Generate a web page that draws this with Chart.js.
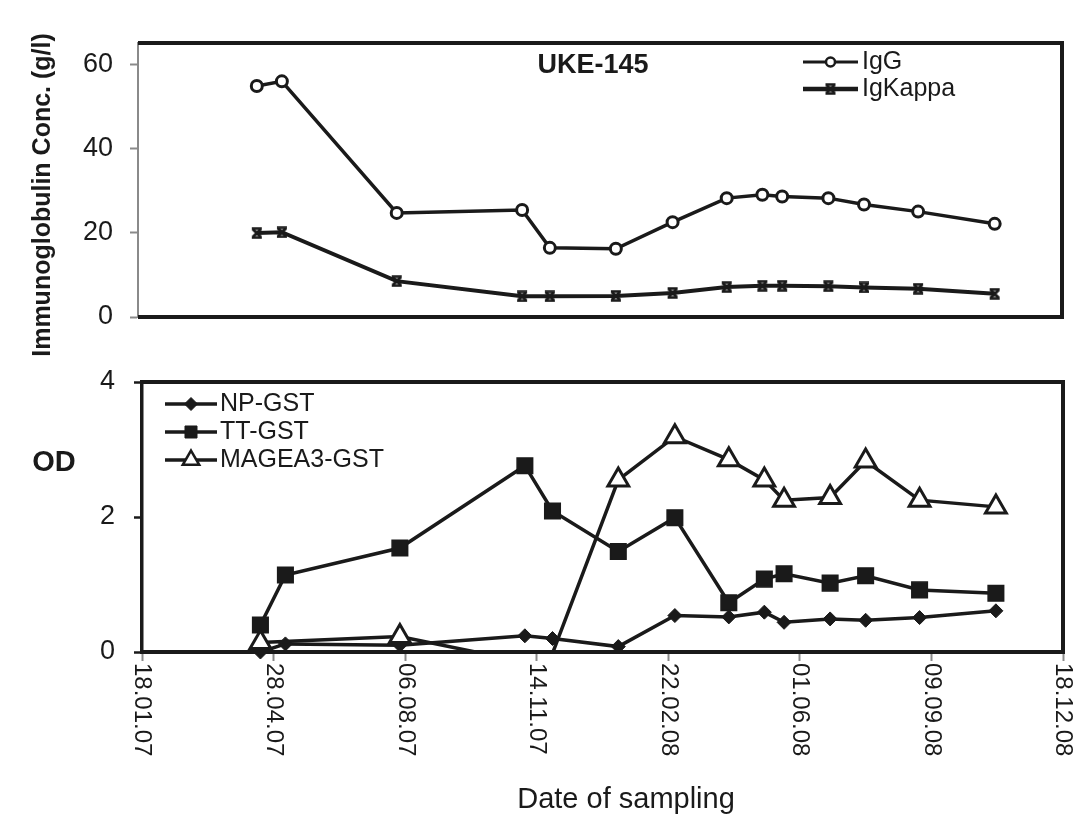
<!DOCTYPE html>
<html>
<head>
<meta charset="utf-8">
<title>UKE-145</title>
<script src="https://cdn.jsdelivr.net/npm/chart.js@4.4.1/dist/chart.umd.min.js"></script>
<style>
  html, body { margin: 0; padding: 0; background: #fff; }
  #wrap { position: relative; width: 1078px; height: 821px; }
  #wrap canvas { position: absolute; left: 0; top: 0; }
</style>
</head>
<body>
<div id="wrap">
  <canvas id="igChart" width="1078" height="821"></canvas>
  <canvas id="odChart" width="1078" height="821"></canvas>
</div>
<script>
// Sampling dates (shared by both panels)
const sampleDates = [
  '2007-04-18', '2007-05-07', '2007-08-02', '2007-11-05', '2007-11-26',
  '2008-01-15', '2008-02-27', '2008-04-08', '2008-05-05', '2008-05-20',
  '2008-06-24', '2008-07-21', '2008-08-31', '2008-10-28'
];

// Immunoglobulin concentrations (g/l)
const igG     = [54.8, 55.9, 24.7, 25.4, 16.4, 16.2, 22.5, 28.2, 29.0, 28.6, 28.2, 26.7, 25.0, 22.1];
const igKappa = [19.9, 20.1, 8.5, 4.9, 4.9, 5.0, 5.7, 7.1, 7.4, 7.4, 7.3, 7.0, 6.7, 5.5];

// Antibody responses (OD)
const npGst    = [0.0, 0.12, 0.10, 0.24, 0.20, 0.08, 0.54, 0.52, 0.59, 0.44, 0.49, 0.47, 0.51, 0.61];
const ttGst    = [0.40, 1.14, 1.54, 2.76, 2.09, 1.49, 1.99, 0.73, 1.08, 1.16, 1.02, 1.13, 0.92, 0.87];
const mageaGst = [0.14, null, 0.23, -0.15, -0.02, 2.55, 3.19, 2.85, 2.55, 2.25, 2.29, 2.83, 2.25, 2.15];

// Axis ticks
const tickDates  = ['2007-01-18', '2007-04-28', '2007-08-06', '2007-11-14', '2008-02-22', '2008-06-01', '2008-09-09', '2008-12-18'];
const tickLabels = ['18.01.07', '28.04.07', '06.08.07', '14.11.07', '22.02.08', '01.06.08', '09.09.08', '18.12.08'];
const igTicks = [0, 20, 40, 60];
const odTicks = [0, 2, 4];

const ink = '#1a1a1a';
const family = '"Liberation Sans", Arial, sans-serif';
const origin = Date.UTC(2007, 0, 18);

function dayOf(s) {
  return (Date.parse(s + 'T00:00:00Z') - origin) / 86400000;
}

function points(values) {
  return sampleDates.map((d, i) => ({ x: dayOf(d), y: values[i] }));
}

// x-shaped marker with bars, used for IgKappa
const kappaMark = document.createElement('canvas');
kappaMark.width = 14;
kappaMark.height = 12;
(function () {
  const c = kappaMark.getContext('2d');
  c.strokeStyle = ink;
  c.lineWidth = 3;
  c.beginPath();
  c.moveTo(3, 2); c.lineTo(11, 10);
  c.moveTo(11, 2); c.lineTo(3, 10);
  c.stroke();
  c.lineWidth = 2.5;
  c.beginPath();
  c.moveTo(2, 1.5); c.lineTo(12, 1.5);
  c.moveTo(2, 10.5); c.lineTo(12, 10.5);
  c.stroke();
})();

function drawMarker(ctx, style, x, y, r, fill, lw) {
  ctx.save();
  if (style instanceof HTMLCanvasElement) {
    ctx.drawImage(style, x - style.width / 2, y - style.height / 2);
    ctx.restore();
    return;
  }
  ctx.fillStyle = fill;
  ctx.strokeStyle = ink;
  ctx.lineWidth = lw;
  ctx.beginPath();
  if (style === 'circle') {
    ctx.arc(x, y, r, 0, Math.PI * 2);
  } else if (style === 'rectRot') {
    ctx.moveTo(x - r, y); ctx.lineTo(x, y - r); ctx.lineTo(x + r, y); ctx.lineTo(x, y + r);
    ctx.closePath();
  } else if (style === 'rect') {
    const s = r * Math.SQRT1_2;
    ctx.rect(x - s, y - s, 2 * s, 2 * s);
  } else if (style === 'triangle') {
    const a = 2 * Math.PI / 3;
    ctx.moveTo(x, y - r);
    ctx.lineTo(x + Math.sin(a) * r, y - Math.cos(a) * r);
    ctx.lineTo(x - Math.sin(a) * r, y - Math.cos(a) * r);
    ctx.closePath();
  }
  ctx.fill();
  ctx.stroke();
  ctx.restore();
}

// line + marker legend drawn inside the plot area
function drawLegend(ctx, rows, x1, x2, textX) {
  ctx.save();
  ctx.font = '25px ' + family;
  ctx.fillStyle = ink;
  ctx.textBaseline = 'middle';
  rows.forEach(row => {
    ctx.strokeStyle = ink;
    ctx.lineWidth = row.lw;
    ctx.beginPath();
    ctx.moveTo(x1, row.y);
    ctx.lineTo(x2, row.y);
    ctx.stroke();
    drawMarker(ctx, row.style, (x1 + x2) / 2, row.y, row.r, row.fill, row.mlw);
    ctx.fillText(row.label, textX, row.y);
  });
  ctx.restore();
}

// border on the top, right and bottom of the plot area
function drawFrame(ctx, a) {
  ctx.save();
  ctx.strokeStyle = ink;
  ctx.lineWidth = 4;
  ctx.beginPath();
  ctx.moveTo(a.left, a.top);
  ctx.lineTo(a.right, a.top);
  ctx.lineTo(a.right, a.bottom);
  ctx.lineTo(a.left, a.bottom);
  ctx.stroke();
  ctx.restore();
}

const yTickFont = { family: family, size: 27 };

const igChart = new Chart(document.getElementById('igChart'), {
  type: 'line',
  data: {
    datasets: [
      {
        label: 'IgG',
        data: points(igG),
        borderColor: ink,
        borderWidth: 3.5,
        pointStyle: 'circle',
        pointRadius: 5.5,
        pointBorderWidth: 3,
        pointBackgroundColor: '#fff',
        pointBorderColor: ink
      },
      {
        label: 'IgKappa',
        data: points(igKappa),
        borderColor: ink,
        borderWidth: 4,
        pointStyle: kappaMark,
        pointRadius: 7
      }
    ]
  },
  options: {
    responsive: false,
    animation: false,
    events: [],
    layout: { padding: { top: 43, right: 16, bottom: 504, left: 0 } },
    plugins: { legend: { display: false }, tooltip: { enabled: false } },
    scales: {
      x: { type: 'linear', min: 0, max: 700, display: false },
      y: {
        min: 0,
        max: 65,
        afterFit: s => { s.width = 138; },
        afterBuildTicks: s => { s.ticks = igTicks.map(v => ({ value: v })); },
        ticks: { font: yTickFont, color: ink, padding: 17 },
        grid: { drawOnChartArea: false, tickLength: 8, tickColor: '#8a8a8a', tickWidth: 2 },
        border: { color: '#8a8a8a', width: 2 }
      }
    }
  },
  plugins: [{
    id: 'igDecor',
    afterDraw(chart) {
      const ctx = chart.ctx;
      drawFrame(ctx, chart.chartArea);

      ctx.save();
      ctx.fillStyle = ink;
      ctx.font = 'bold 27px ' + family;
      ctx.textAlign = 'center';
      ctx.textBaseline = 'middle';
      ctx.fillText('UKE-145', 593, 66);

      // y axis title, rotated
      ctx.font = 'bold 25px ' + family;
      ctx.translate(50, 195);
      ctx.rotate(-Math.PI / 2);
      ctx.textBaseline = 'alphabetic';
      ctx.fillText('Immunoglobulin Conc. (g/l)', 0, 0);
      ctx.restore();

      drawLegend(ctx, [
        { y: 62, label: 'IgG', style: 'circle', r: 4.5, fill: '#fff', mlw: 2.5, lw: 3 },
        { y: 89, label: 'IgKappa', style: kappaMark, lw: 4.5 }
      ], 803, 858, 862);
    }
  }]
});

const odChart = new Chart(document.getElementById('odChart'), {
  type: 'line',
  data: {
    datasets: [
      {
        label: 'NP-GST',
        data: points(npGst),
        order: 2,
        clip: false,
        borderColor: ink,
        borderWidth: 3.5,
        pointStyle: 'rectRot',
        pointRadius: 7,
        pointBorderWidth: 1,
        pointBackgroundColor: ink,
        pointBorderColor: ink
      },
      {
        label: 'TT-GST',
        data: points(ttGst),
        order: 1,
        borderColor: ink,
        borderWidth: 3.5,
        pointStyle: 'rect',
        pointRadius: 11,
        pointBorderWidth: 1.5,
        pointBackgroundColor: ink,
        pointBorderColor: ink
      },
      {
        label: 'MAGEA3-GST',
        data: points(mageaGst),
        order: 0,
        clip: 0,
        spanGaps: true,
        borderColor: ink,
        borderWidth: 3.5,
        pointStyle: 'triangle',
        pointRadius: c => (c.parsed && c.parsed.y < 0 ? 0 : 12),
        pointBorderWidth: 3,
        pointBackgroundColor: '#fff',
        pointBorderColor: ink
      }
    ]
  },
  options: {
    responsive: false,
    animation: false,
    events: [],
    layout: { padding: { top: 382, right: 13, bottom: 0, left: 0 } },
    plugins: { legend: { display: false }, tooltip: { enabled: false } },
    scales: {
      x: {
        type: 'linear',
        min: 0,
        max: 700,
        afterFit: s => { s.height = 169; },
        afterBuildTicks: s => { s.ticks = tickDates.map(d => ({ value: dayOf(d) })); },
        ticks: { display: false },
        grid: { drawOnChartArea: false, tickLength: 9, tickColor: '#8a8a8a', tickWidth: 2 },
        border: { color: ink, width: 4 }
      },
      y: {
        min: 0,
        max: 4,
        afterFit: s => { s.width = 142; },
        afterBuildTicks: s => { s.ticks = odTicks.map(v => ({ value: v })); },
        ticks: { font: yTickFont, color: ink, padding: 19 },
        grid: { drawOnChartArea: false, tickLength: 8, tickColor: ink, tickWidth: 2.5 },
        border: { color: ink, width: 3.5 }
      }
    }
  },
  plugins: [{
    id: 'odDecor',
    afterDraw(chart) {
      const ctx = chart.ctx;
      const x = chart.scales.x;
      drawFrame(ctx, chart.chartArea);

      ctx.save();
      ctx.fillStyle = ink;
      ctx.font = 'bold 29px ' + family;
      ctx.textAlign = 'center';
      ctx.textBaseline = 'middle';
      ctx.fillText('OD', 54, 463);

      // date labels, rotated to read downwards
      ctx.font = '24px ' + family;
      ctx.textAlign = 'left';
      tickDates.forEach((d, i) => {
        const px = x.getPixelForValue(dayOf(d));
        ctx.save();
        ctx.translate(px, 663);
        ctx.rotate(Math.PI / 2);
        ctx.fillText(tickLabels[i], 0, 0);
        ctx.restore();
      });

      ctx.font = '29px ' + family;
      ctx.textAlign = 'center';
      ctx.textBaseline = 'alphabetic';
      ctx.fillText('Date of sampling', 626, 808);
      ctx.restore();

      drawLegend(ctx, [
        { y: 404, label: 'NP-GST', style: 'rectRot', r: 6.5, fill: ink, mlw: 1, lw: 3.5 },
        { y: 432, label: 'TT-GST', style: 'rect', r: 8.5, fill: ink, mlw: 1, lw: 3.5 },
        { y: 460, label: 'MAGEA3-GST', style: 'triangle', r: 9.5, fill: '#fff', mlw: 2.5, lw: 3.5 }
      ], 165, 217, 220);
    }
  }]
});
</script>
</body>
</html>
